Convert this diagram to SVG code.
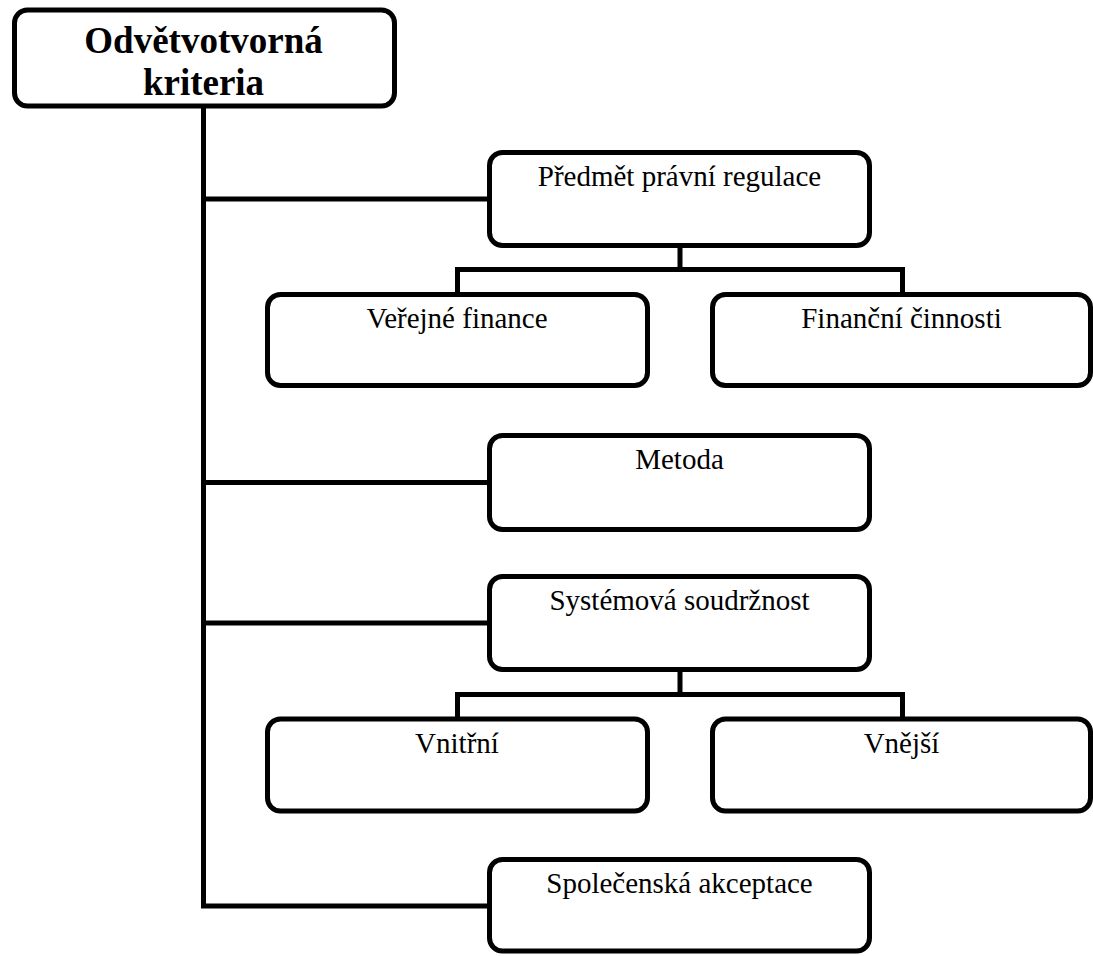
<svg xmlns="http://www.w3.org/2000/svg" width="1093" height="956" viewBox="0 0 1093 956">
<style>
.box{fill:#fff;stroke:#000;stroke-width:5}
.conn{fill:none;stroke:#000;stroke-width:5;stroke-linejoin:miter}
.t{font-family:"Liberation Serif","Times New Roman",serif;font-size:29px;fill:#000;text-anchor:middle}
.tb{font-family:"Liberation Serif","Times New Roman",serif;font-size:37px;font-weight:bold;fill:#000;text-anchor:middle}
</style>
<rect width="1093" height="956" fill="#fff"/>
<g id="connectors">
<path class="conn" d="M203.5,106 V906 H490"/>
<path class="conn" d="M201,199 H490"/>
<path class="conn" d="M201,482.5 H490"/>
<path class="conn" d="M201,623 H490"/>
<path class="conn" d="M680,245 V269.5"/>
<path class="conn" d="M457.5,294 V269.5 H902.5 V294"/>
<path class="conn" d="M680,669 V694.5"/>
<path class="conn" d="M457.5,719 V694.5 H902.5 V719"/>
</g>
<g id="root">
<rect class="box" x="14.5" y="10" width="380" height="96" rx="13"/>
<text class="tb" x="203.5" y="53">Odvětvotvorná</text>
<text class="tb" x="203.5" y="95">kriteria</text>
</g>
<g id="predmet">
<rect class="box" x="489.5" y="152.5" width="380" height="93" rx="13"/>
<text class="t" x="679.5" y="186">Předmět právní regulace</text>
</g>
<g id="verejne">
<rect class="box" x="267.5" y="294.5" width="380" height="91" rx="13"/>
<text class="t" x="457" y="328">Veřejné finance</text>
</g>
<g id="financni">
<rect class="box" x="712.5" y="294.5" width="378" height="91" rx="13"/>
<text class="t" x="901.5" y="328">Finanční činnosti</text>
</g>
<g id="metoda">
<rect class="box" x="489.5" y="435.5" width="380" height="94" rx="13"/>
<text class="t" x="679.5" y="469">Metoda</text>
</g>
<g id="systemova">
<rect class="box" x="489.5" y="576.5" width="380" height="93" rx="13"/>
<text class="t" x="679.5" y="610">Systémová soudržnost</text>
</g>
<g id="vnitrni">
<rect class="box" x="267.5" y="719" width="380" height="92" rx="13"/>
<text class="t" x="457" y="753">Vnitřní</text>
</g>
<g id="vnejsi">
<rect class="box" x="712.5" y="719" width="378" height="92" rx="13"/>
<text class="t" x="901.5" y="753">Vnější</text>
</g>
<g id="spolecenska">
<rect class="box" x="489.5" y="859.5" width="380" height="91.5" rx="13"/>
<text class="t" x="679.5" y="893">Společenská akceptace</text>
</g>
</svg>
